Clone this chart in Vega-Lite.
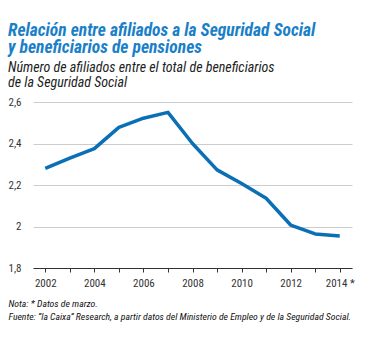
{
  "$schema": "https://vega.github.io/schema/vega-lite/v6.json",
  "autosize": {"type": "none"},
  "width": 319,
  "height": 166,
  "padding": {"left": 33, "top": 102, "right": 25, "bottom": 70},
  "background": "white",
  "title": {
    "text": ["Relación entre afiliados a la Seguridad Social", "y beneficiarios de pensiones"],
    "subtitle": ["Número de afiliados entre el total de beneficiarios", "de la Seguridad Social"],
    "anchor": "start",
    "frame": "group",
    "dx": -25,
    "offset": 6,
    "font": "Liberation Sans Narrow, Roboto Condensed, Roboto",
    "fontSize": 17.5,
    "fontWeight": "bold",
    "fontStyle": "italic",
    "color": "#1a7fc8",
    "lineHeight": 17,
    "subtitleFont": "Liberation Sans Narrow, Roboto Condensed, Roboto",
    "subtitleFontSize": 14,
    "subtitleFontStyle": "italic",
    "subtitleColor": "#222222",
    "subtitleLineHeight": 15,
    "subtitlePadding": 5
  },
  "data": {
    "values": [
      {"year": "2002", "ratio": 2.28},
      {"year": "2003", "ratio": 2.33},
      {"year": "2004", "ratio": 2.375},
      {"year": "2005", "ratio": 2.478},
      {"year": "2006", "ratio": 2.522},
      {"year": "2007", "ratio": 2.55},
      {"year": "2008", "ratio": 2.40},
      {"year": "2009", "ratio": 2.273},
      {"year": "2010", "ratio": 2.207},
      {"year": "2011", "ratio": 2.136},
      {"year": "2012", "ratio": 2.007},
      {"year": "2013", "ratio": 1.964},
      {"year": "2014", "ratio": 1.954}
    ]
  },
  "mark": {"type": "line", "color": "#0a6fb5", "strokeWidth": 3.5, "strokeJoin": "round"},
  "encoding": {
    "x": {
      "field": "year",
      "type": "ordinal",
      "scale": {"paddingInner": 0, "paddingOuter": 0},
      "axis": {
        "title": ["Nota: * Datos de marzo.", "Fuente: “la Caixa” Research, a partir datos del Ministerio de Empleo y de la Seguridad Social."],
        "titleFont": "Liberation Sans Narrow, Roboto Condensed, Roboto",
        "titleFontSize": 9.7,
        "titleFontStyle": "italic",
        "titleFontWeight": "normal",
        "titleColor": "#111111",
        "titleAnchor": "start",
        "titleAlign": "left",
        "titleX": -25,
        "titleY": 30,
        "titleLineHeight": 13,
        "titleBaseline": "top",
        "labelAngle": 0,
        "labelExpr": "datum.value == '2014' ? '2014 *' : (toNumber(datum.value) % 2 == 0 ? datum.value : '')",
        "labelFont": "Liberation Sans Narrow, Roboto Condensed, Roboto",
        "labelFontSize": 11,
        "labelColor": "#333333",
        "labelPadding": 5,
        "bandPosition": 0,
        "tickSize": 4,
        "tickColor": "#333333",
        "domainColor": "#333333",
        "grid": false
      }
    },
    "y": {
      "field": "ratio",
      "type": "quantitative",
      "scale": {"domain": [1.8, 2.6], "nice": false, "zero": false},
      "axis": {
        "title": null,
        "values": [1.8, 2.0, 2.2, 2.4, 2.6],
        "labelExpr": "replace(format(datum.value, '.1~f'), '.', ',')",
        "labelFont": "Liberation Sans Narrow, Roboto Condensed, Roboto",
        "labelFontSize": 11,
        "labelColor": "#333333",
        "labelPadding": 12,
        "ticks": false,
        "domain": false,
        "grid": true,
        "gridColor": "#cccccc",
        "gridWidth": 1
      }
    }
  },
  "config": {"view": {"stroke": null}}
}
